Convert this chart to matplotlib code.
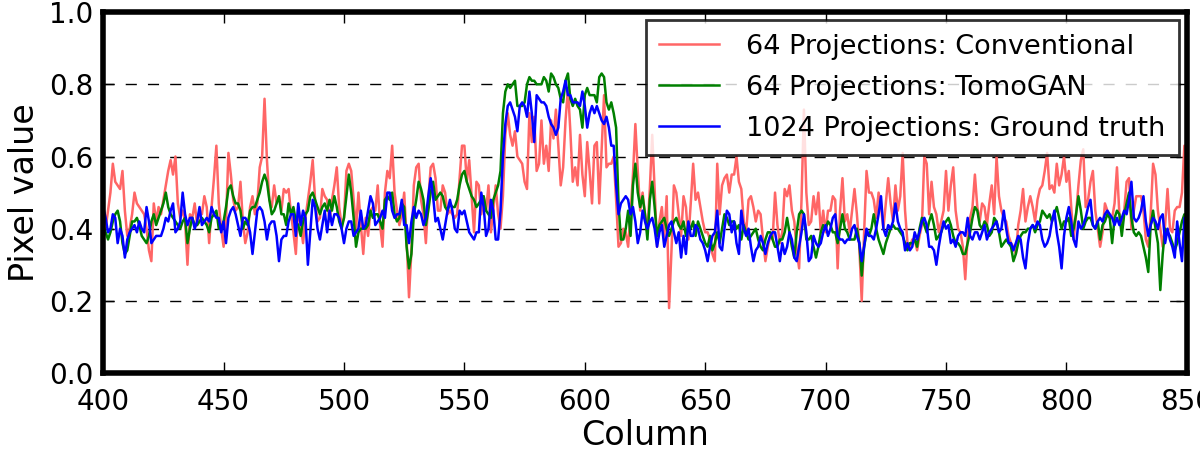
import matplotlib
matplotlib.use("Agg")
import matplotlib.pyplot as plt

# pixel profile along one image row, columns 400..850
columns = list(range(400, 851))

conventional = [
    0.43, 0.40, 0.45, 0.50, 0.58, 0.53, 0.52, 0.51, 0.56, 0.45,
    0.38, 0.40, 0.44, 0.50, 0.47, 0.46, 0.45, 0.44, 0.40, 0.34,
    0.31, 0.47, 0.42, 0.46, 0.44, 0.48, 0.52, 0.56, 0.59, 0.55,
    0.60, 0.47, 0.43, 0.45, 0.42, 0.30, 0.44, 0.43, 0.47, 0.41,
    0.45, 0.44, 0.49, 0.46, 0.36, 0.46, 0.54, 0.63, 0.47, 0.40,
    0.35, 0.42, 0.61, 0.55, 0.48, 0.45, 0.46, 0.53, 0.42, 0.36,
    0.39, 0.46, 0.49, 0.44, 0.47, 0.57, 0.60, 0.76, 0.59, 0.48,
    0.46, 0.52, 0.47, 0.49, 0.45, 0.51, 0.50, 0.51, 0.44, 0.39,
    0.33, 0.46, 0.41, 0.36, 0.43, 0.48, 0.53, 0.59, 0.48, 0.42,
    0.43, 0.51, 0.49, 0.48, 0.42, 0.48, 0.52, 0.57, 0.46, 0.41,
    0.43, 0.56, 0.58, 0.56, 0.48, 0.40, 0.50, 0.41, 0.33, 0.43,
    0.38, 0.45, 0.46, 0.45, 0.52, 0.41, 0.35, 0.50, 0.56, 0.54,
    0.63, 0.50, 0.45, 0.41, 0.44, 0.50, 0.37, 0.21, 0.34, 0.52,
    0.57, 0.58, 0.48, 0.44, 0.36, 0.48, 0.57, 0.58, 0.54, 0.45,
    0.45, 0.52, 0.50, 0.44, 0.45, 0.44, 0.43, 0.44, 0.54, 0.63,
    0.63, 0.53, 0.59, 0.49, 0.39, 0.53, 0.52, 0.44, 0.49, 0.45,
    0.52, 0.39, 0.45, 0.52, 0.44, 0.40, 0.49, 0.66, 0.72, 0.66,
    0.63, 0.67, 0.60, 0.59, 0.58, 0.53, 0.51, 0.72, 0.64, 0.71,
    0.56, 0.58, 0.70, 0.58, 0.63, 0.56, 0.70, 0.65, 0.73, 0.63,
    0.52, 0.57, 0.70, 0.79, 0.67, 0.53, 0.57, 0.52, 0.66, 0.55,
    0.49, 0.64, 0.56, 0.47, 0.63, 0.64, 0.47, 0.62, 0.77, 0.57,
    0.58, 0.58, 0.60, 0.48, 0.35, 0.36, 0.40, 0.39, 0.35, 0.44,
    0.55, 0.69, 0.56, 0.45, 0.50, 0.44, 0.39, 0.51, 0.66, 0.51,
    0.35, 0.42, 0.46, 0.37, 0.49, 0.18, 0.34, 0.52, 0.50, 0.44,
    0.38, 0.49, 0.46, 0.37, 0.47, 0.58, 0.48, 0.50, 0.46, 0.42,
    0.39, 0.39, 0.37, 0.33, 0.31, 0.58, 0.44, 0.52, 0.54, 0.55,
    0.50, 0.55, 0.55, 0.60, 0.53, 0.51, 0.42, 0.39, 0.48, 0.49,
    0.46, 0.42, 0.45, 0.44, 0.37, 0.31, 0.35, 0.38, 0.37, 0.50,
    0.41, 0.36, 0.39, 0.51, 0.49, 0.52, 0.45, 0.42, 0.34, 0.29,
    0.48, 0.73, 0.50, 0.41, 0.42, 0.49, 0.44, 0.50, 0.39, 0.45,
    0.39, 0.45, 0.45, 0.49, 0.48, 0.29, 0.45, 0.54, 0.42, 0.44,
    0.39, 0.45, 0.51, 0.44, 0.35, 0.20, 0.39, 0.56, 0.50, 0.50,
    0.48, 0.43, 0.50, 0.46, 0.40, 0.47, 0.54, 0.47, 0.42, 0.52,
    0.45, 0.49, 0.61, 0.45, 0.36, 0.35, 0.37, 0.37, 0.34, 0.38,
    0.41, 0.60, 0.58, 0.44, 0.53, 0.46, 0.44, 0.39, 0.42, 0.45,
    0.56, 0.45, 0.52, 0.57, 0.45, 0.40, 0.39, 0.35, 0.26, 0.38,
    0.43, 0.46, 0.55, 0.46, 0.42, 0.47, 0.46, 0.41, 0.47, 0.52,
    0.44, 0.60, 0.49, 0.45, 0.43, 0.42, 0.38, 0.36, 0.35, 0.33,
    0.41, 0.45, 0.51, 0.42, 0.46, 0.49, 0.46, 0.42, 0.48, 0.51,
    0.52, 0.56, 0.61, 0.51, 0.52, 0.50, 0.58, 0.52, 0.55, 0.60,
    0.53, 0.56, 0.46, 0.37, 0.44, 0.52, 0.59, 0.62, 0.46, 0.48,
    0.53, 0.56, 0.45, 0.40, 0.35, 0.39, 0.47, 0.45, 0.43, 0.43,
    0.47, 0.57, 0.44, 0.40, 0.45, 0.53, 0.54, 0.40, 0.45, 0.49,
    0.49, 0.49, 0.45, 0.37, 0.35, 0.44, 0.58, 0.55, 0.45, 0.40,
    0.35, 0.41, 0.51, 0.40, 0.39, 0.45, 0.46, 0.46, 0.50, 0.63,
    0.43,
]

tomogan = [
    0.41, 0.39, 0.37, 0.39, 0.42, 0.44, 0.45, 0.42, 0.36, 0.33,
    0.34, 0.38, 0.42, 0.42, 0.43, 0.41, 0.38, 0.37, 0.36, 0.38,
    0.42, 0.44, 0.41, 0.43, 0.45, 0.47, 0.50, 0.46, 0.44, 0.43,
    0.42, 0.41, 0.40, 0.42, 0.43, 0.36, 0.40, 0.43, 0.41, 0.41,
    0.42, 0.43, 0.42, 0.41, 0.39, 0.43, 0.44, 0.45, 0.40, 0.40,
    0.42, 0.46, 0.51, 0.52, 0.49, 0.47, 0.47, 0.45, 0.40, 0.42,
    0.41, 0.45, 0.46, 0.46, 0.48, 0.50, 0.53, 0.55, 0.53, 0.48,
    0.44, 0.45, 0.47, 0.49, 0.44, 0.44, 0.41, 0.47, 0.44, 0.46,
    0.42, 0.41, 0.38, 0.42, 0.44, 0.45, 0.49, 0.50, 0.48, 0.46,
    0.44, 0.46, 0.47, 0.45, 0.48, 0.45, 0.49, 0.46, 0.42, 0.40,
    0.43, 0.49, 0.55, 0.50, 0.43, 0.35, 0.39, 0.40, 0.40, 0.40,
    0.41, 0.45, 0.43, 0.44, 0.44, 0.42, 0.40, 0.48, 0.49, 0.48,
    0.50, 0.44, 0.42, 0.43, 0.47, 0.46, 0.35, 0.29, 0.33, 0.44,
    0.48, 0.53, 0.51, 0.48, 0.41, 0.45, 0.50, 0.53, 0.48, 0.49,
    0.50, 0.49, 0.46, 0.45, 0.47, 0.46, 0.46, 0.48, 0.52, 0.55,
    0.56, 0.53, 0.51, 0.49, 0.48, 0.46, 0.47, 0.48, 0.49, 0.45,
    0.44, 0.43, 0.48, 0.50, 0.52, 0.56, 0.72, 0.78, 0.80, 0.79,
    0.80, 0.81, 0.74, 0.74, 0.74, 0.75, 0.80, 0.82, 0.81, 0.81,
    0.80, 0.80, 0.80, 0.82, 0.81, 0.78, 0.83, 0.82, 0.80, 0.79,
    0.76, 0.75, 0.81, 0.83, 0.76, 0.74, 0.76, 0.74, 0.73, 0.68,
    0.77, 0.79, 0.77, 0.77, 0.77, 0.75, 0.82, 0.83, 0.82, 0.75,
    0.73, 0.75, 0.72, 0.68, 0.47, 0.37, 0.37, 0.40, 0.45, 0.38,
    0.52, 0.58, 0.50, 0.46, 0.49, 0.44, 0.37, 0.48, 0.53, 0.46,
    0.38, 0.41, 0.42, 0.43, 0.40, 0.38, 0.40, 0.42, 0.43, 0.41,
    0.40, 0.42, 0.38, 0.41, 0.40, 0.42, 0.38, 0.42, 0.40, 0.38,
    0.36, 0.35, 0.38, 0.34, 0.36, 0.39, 0.36, 0.40, 0.44, 0.43,
    0.41, 0.42, 0.42, 0.40, 0.41, 0.37, 0.41, 0.39, 0.37, 0.38,
    0.39, 0.40, 0.37, 0.35, 0.34, 0.37, 0.39, 0.39, 0.37, 0.35,
    0.35, 0.37, 0.37, 0.39, 0.43, 0.39, 0.35, 0.32, 0.39, 0.44,
    0.45, 0.44, 0.37, 0.37, 0.38, 0.35, 0.32, 0.35, 0.39, 0.41,
    0.40, 0.42, 0.41, 0.39, 0.39, 0.36, 0.40, 0.44, 0.40, 0.39,
    0.37, 0.37, 0.37, 0.40, 0.36, 0.27, 0.35, 0.39, 0.38, 0.40,
    0.44, 0.40, 0.37, 0.35, 0.33, 0.36, 0.38, 0.40, 0.41, 0.40,
    0.40, 0.39, 0.38, 0.36, 0.34, 0.36, 0.36, 0.37, 0.35, 0.40,
    0.43, 0.41, 0.39, 0.42, 0.44, 0.41, 0.37, 0.38, 0.39, 0.41,
    0.42, 0.43, 0.41, 0.38, 0.36, 0.36, 0.35, 0.33, 0.33, 0.36,
    0.39, 0.43, 0.46, 0.45, 0.41, 0.40, 0.42, 0.41, 0.38, 0.39,
    0.43, 0.42, 0.39, 0.35, 0.36, 0.37, 0.36, 0.35, 0.31, 0.33,
    0.36, 0.38, 0.39, 0.39, 0.40, 0.40, 0.41, 0.39, 0.41, 0.42,
    0.45, 0.44, 0.43, 0.44, 0.42, 0.44, 0.46, 0.43, 0.40, 0.42,
    0.42, 0.43, 0.38, 0.40, 0.44, 0.49, 0.45, 0.40, 0.42, 0.43,
    0.43, 0.41, 0.40, 0.42, 0.37, 0.41, 0.42, 0.44, 0.43, 0.36,
    0.43, 0.45, 0.44, 0.38, 0.44, 0.47, 0.50, 0.43, 0.39, 0.38,
    0.39, 0.38, 0.35, 0.32, 0.28, 0.41, 0.45, 0.40, 0.36, 0.23,
    0.33, 0.40, 0.39, 0.38, 0.36, 0.34, 0.36, 0.39, 0.42, 0.44,
    0.42,
]

ground_truth = [
    0.46, 0.43, 0.39, 0.40, 0.44, 0.43, 0.36, 0.40, 0.38, 0.32,
    0.37, 0.39, 0.40, 0.41, 0.39, 0.42, 0.40, 0.39, 0.46, 0.42,
    0.36, 0.37, 0.38, 0.38, 0.38, 0.40, 0.43, 0.42, 0.45, 0.47,
    0.39, 0.40, 0.42, 0.50, 0.44, 0.41, 0.43, 0.43, 0.40, 0.42,
    0.46, 0.41, 0.42, 0.43, 0.42, 0.46, 0.44, 0.43, 0.43, 0.39,
    0.42, 0.36, 0.43, 0.45, 0.46, 0.44, 0.41, 0.38, 0.43, 0.43,
    0.42, 0.39, 0.33, 0.39, 0.45, 0.46, 0.45, 0.42, 0.37, 0.41,
    0.42, 0.42, 0.38, 0.31, 0.37, 0.38, 0.38, 0.42, 0.44, 0.44,
    0.38, 0.47, 0.41, 0.45, 0.43, 0.30, 0.39, 0.48, 0.46, 0.40,
    0.37, 0.41, 0.45, 0.39, 0.45, 0.41, 0.44, 0.44, 0.43, 0.40,
    0.36, 0.40, 0.42, 0.42, 0.38, 0.39, 0.40, 0.45, 0.40, 0.41,
    0.45, 0.49, 0.47, 0.41, 0.42, 0.43, 0.45, 0.43, 0.50, 0.50,
    0.45, 0.43, 0.44, 0.44, 0.48, 0.41, 0.41, 0.36, 0.42, 0.46,
    0.43, 0.45, 0.44, 0.41, 0.43, 0.49, 0.54, 0.49, 0.42, 0.43,
    0.40, 0.37, 0.41, 0.45, 0.48, 0.45, 0.40, 0.39, 0.45, 0.44,
    0.45, 0.42, 0.39, 0.38, 0.37, 0.39, 0.39, 0.50, 0.46, 0.38,
    0.40, 0.48, 0.45, 0.37, 0.37, 0.45, 0.60, 0.69, 0.74, 0.75,
    0.73, 0.71, 0.67, 0.74, 0.75, 0.74, 0.71, 0.78, 0.72, 0.64,
    0.77, 0.76, 0.75, 0.75, 0.74, 0.71, 0.69, 0.68, 0.66, 0.68,
    0.76, 0.78, 0.81, 0.77, 0.77, 0.75, 0.75, 0.75, 0.74, 0.78,
    0.74, 0.68, 0.72, 0.74, 0.72, 0.74, 0.72, 0.70, 0.69, 0.71,
    0.68, 0.63, 0.63, 0.52, 0.44, 0.47, 0.48, 0.49, 0.48, 0.44,
    0.46, 0.42, 0.36, 0.39, 0.45, 0.42, 0.40, 0.42, 0.43, 0.40,
    0.35, 0.39, 0.41, 0.35, 0.38, 0.41, 0.42, 0.39, 0.36, 0.39,
    0.32, 0.38, 0.33, 0.42, 0.38, 0.38, 0.41, 0.40, 0.37, 0.36,
    0.34, 0.31, 0.35, 0.38, 0.39, 0.45, 0.35, 0.34, 0.40, 0.45,
    0.44, 0.39, 0.42, 0.36, 0.33, 0.45, 0.40, 0.38, 0.40, 0.35,
    0.31, 0.34, 0.35, 0.38, 0.36, 0.33, 0.36, 0.38, 0.39, 0.39,
    0.35, 0.31, 0.36, 0.33, 0.35, 0.39, 0.37, 0.32, 0.31, 0.35,
    0.39, 0.44, 0.39, 0.31, 0.32, 0.38, 0.36, 0.35, 0.36, 0.39,
    0.41, 0.38, 0.40, 0.43, 0.44, 0.38, 0.37, 0.37, 0.36, 0.37,
    0.37, 0.40, 0.41, 0.38, 0.36, 0.31, 0.35, 0.40, 0.38, 0.38,
    0.37, 0.40, 0.44, 0.49, 0.40, 0.38, 0.41, 0.40, 0.42, 0.47,
    0.42, 0.40, 0.39, 0.34, 0.36, 0.34, 0.35, 0.39, 0.37, 0.39,
    0.42, 0.43, 0.41, 0.35, 0.35, 0.34, 0.30, 0.35, 0.39, 0.42,
    0.40, 0.41, 0.36, 0.37, 0.35, 0.38, 0.39, 0.39, 0.38, 0.43,
    0.38, 0.37, 0.39, 0.39, 0.37, 0.39, 0.41, 0.37, 0.39, 0.40,
    0.41, 0.42, 0.39, 0.40, 0.45, 0.40, 0.36, 0.36, 0.34, 0.36,
    0.38, 0.37, 0.32, 0.29, 0.36, 0.40, 0.41, 0.40, 0.42, 0.41,
    0.37, 0.35, 0.36, 0.38, 0.42, 0.45, 0.39, 0.35, 0.29, 0.38,
    0.43, 0.46, 0.42, 0.37, 0.35, 0.42, 0.40, 0.41, 0.43, 0.46,
    0.48, 0.41, 0.40, 0.42, 0.43, 0.42, 0.44, 0.45, 0.44, 0.43,
    0.41, 0.43, 0.41, 0.43, 0.45, 0.44, 0.48, 0.53, 0.43, 0.42,
    0.43, 0.45, 0.49, 0.42, 0.38, 0.41, 0.43, 0.42, 0.40, 0.43,
    0.44, 0.36, 0.40, 0.37, 0.35, 0.32, 0.42, 0.36, 0.31, 0.43,
    0.38,
]

labels = ["64 Projections: Conventional", "64 Projections: TomoGAN",
          "1024 Projections: Ground truth"]

fig = plt.figure(figsize=(12, 4.5), dpi=100)
ax = fig.add_axes([0.086, 0.171, 0.903, 0.802])

ax.plot(columns, conventional, color="#ff6666", lw=1.8, label=labels[0])
ax.plot(columns, tomogan, color="green", lw=1.8, label=labels[1])
ax.plot(columns, ground_truth, color="blue", lw=1.8, label=labels[2])

ax.set_xlim(400, 850)
ax.set_ylim(0, 1.0)
ax.set_xticks(range(400, 851, 50))
ax.set_yticks([0.0, 0.2, 0.4, 0.6, 0.8, 1.0])
ax.yaxis.grid(True, color="black", linestyle=(0, (8, 8)), linewidth=1)

for s in ax.spines.values():
    s.set_linewidth(4)
ax.tick_params(direction="in", top=True, right=True, length=8, width=1,
               labelsize=20)
ax.tick_params(axis="x", pad=11)
ax.tick_params(axis="y", pad=7)

ax.set_xlabel("Column", fontsize=24, labelpad=2)
ax.set_ylabel("Pixel value", fontsize=24, labelpad=6)

leg = ax.legend(loc="upper right", fontsize=19.5, framealpha=0.8,
                edgecolor="black", fancybox=False, handlelength=2.2,
                handletextpad=1.0, borderaxespad=0.3, borderpad=0.5,
                labelspacing=0.55)
leg.get_frame().set_linewidth(2)

fig.savefig("out.png", dpi=100)
